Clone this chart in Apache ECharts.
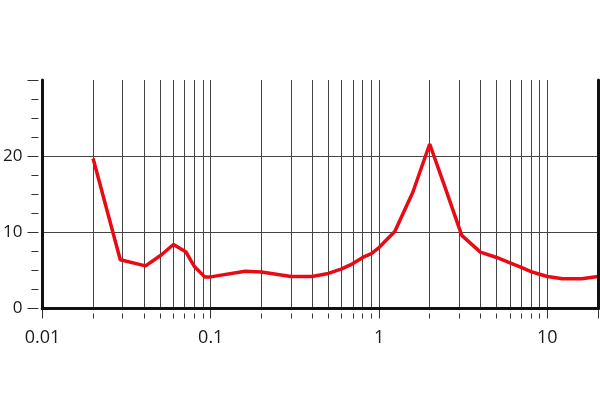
<!DOCTYPE html>
<html><head><meta charset="utf-8">
<script src="https://cdn.jsdelivr.net/npm/echarts@6/dist/echarts.min.js"></script>
<style>html,body{margin:0;padding:0;background:#fff}#c{width:600px;height:420px}</style>
</head><body><div id="c"></div>
<script>
// Frequency (x) and response (y)
const freq = [0.02, 0.029, 0.041, 0.051, 0.060, 0.071, 0.080, 0.092, 0.1, 0.16, 0.2, 0.3, 0.4, 0.5, 0.6, 0.7, 0.8, 0.9, 1, 1.24, 1.59, 2, 2.45, 3.1, 4, 5, 6, 7, 8, 9, 10, 12.3, 16, 20];
const resp = [19.7, 6.4, 5.6, 7.06, 8.4, 7.46, 5.5, 4.15, 4.15, 4.9, 4.8, 4.2, 4.2, 4.6, 5.2, 5.9, 6.7, 7.2, 8.0, 10.1, 15.3, 21.6, 16.1, 9.6, 7.4, 6.7, 6.0, 5.4, 4.85, 4.5, 4.2, 3.9, 3.9, 4.2];
const xMajorTicks = [0.01, 0.1, 1, 10, 20];
const xLabels = [0.01, 0.1, 1, 10];
const xMinorTicks = [0.02,0.03,0.04,0.05,0.06,0.07,0.08,0.09,0.2,0.3,0.4,0.5,0.6,0.7,0.8,0.9,2,3,4,5,6,7,8,9];
const xGridLines = [0.02,0.03,0.04,0.05,0.06,0.07,0.08,0.09,0.1,0.2,0.3,0.4,0.5,0.6,0.7,0.8,0.9,1,2,3,4,5,6,7,8,9,10];
const yGridLines = [10, 20];
const yLabels = [0, 10, 20];

const font = 'Open Sans';
const chart = echarts.init(document.getElementById('c'), null, {renderer: 'canvas'});
const logAx = (extra) => Object.assign({type: 'log', logBase: 10, min: 0.01, max: 20, splitLine: {show: false}, axisLabel: {show: false}, axisTick: {show: false}, axisLine: {show: false}}, extra);
const valAx = (extra) => Object.assign({type: 'value', min: 0, max: 30, interval: 10, splitLine: {show: false}, axisLabel: {show: false}, axisTick: {show: false}, axisLine: {show: false}}, extra);
const border = {show: true, lineStyle: {color: '#111', width: 3}};
chart.setOption({
  animation: false,
  backgroundColor: '#fff',
  grid: {left: 38, right: 2, top: 80, bottom: 111.5, containLabel: false},
  xAxis: [
    logAx({position: 'bottom', axisLine: border, z: 10}),
    logAx({position: 'top', axisLine: border, z: 10}),
    logAx({position: 'bottom', offset: 5,
      axisTick: {show: true, inside: false, length: 10, lineStyle: {color: '#333', width: 1}, customValues: xMajorTicks},
      axisLabel: {show: true, margin: 15, fontFamily: font, fontSize: 18, color: '#1a1a1a', customValues: xLabels,
        formatter: v => String(v)}}),
    logAx({position: 'bottom', offset: 5,
      axisTick: {show: true, inside: false, length: 5, lineStyle: {color: '#333', width: 1}, customValues: xMinorTicks}})
  ],
  yAxis: [
    valAx({position: 'left', axisLine: border, z: 10}),
    valAx({position: 'right', axisLine: border, z: 10}),
    valAx({position: 'left', offset: 4,
      axisTick: {show: true, length: 11, lineStyle: {color: '#333', width: 1}},
      minorTick: {show: true, splitNumber: 4, length: 7, lineStyle: {color: '#333', width: 1}},
      axisLabel: {show: true, margin: 16, fontFamily: font, fontSize: 17, color: '#1a1a1a',
        formatter: v => yLabels.indexOf(v) >= 0 ? String(v) : ''}})
  ],
  series: [
    {type: 'line', xAxisIndex: 0, yAxisIndex: 0, data: [], silent: true,
      markLine: {silent: true, symbol: 'none', label: {show: false},
        lineStyle: {color: '#444', width: 1, type: 'solid'},
        data: xGridLines.map(v => ({xAxis: v})).concat(yGridLines.map(v => ({yAxis: v})))}},
    {type: 'line', xAxisIndex: 0, yAxisIndex: 0, symbol: 'none', z: 5,
      lineStyle: {color: '#e80a14', width: 3.5}, itemStyle: {color: '#e80a14'},
      data: freq.map((f, i) => [f, resp[i]])}
  ]
});
</script></body></html>
